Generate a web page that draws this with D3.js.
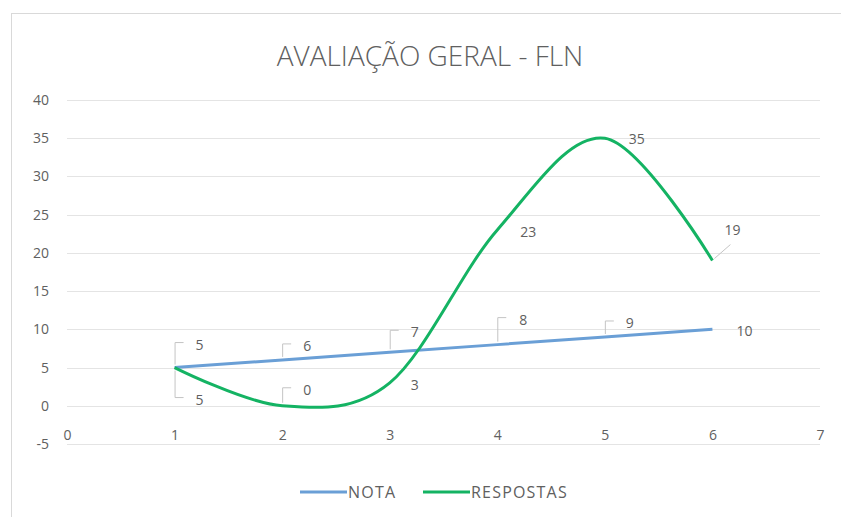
<!DOCTYPE html>
<html>
<head>
<meta charset="utf-8">
<script src="https://cdn.jsdelivr.net/npm/d3@7"></script>
<style>
  body { margin: 0; background: #fff; }
  text { font-family: "Open Sans", "Noto Sans", sans-serif; fill: #606060; }
</style>
</head>
<body>
<div id="main"></div>
<script>
// data
var xValues = [1, 2, 3, 4, 5, 6];
var nota = [5, 6, 7, 8, 9, 10];
var respostas = [5, 0, 3, 23, 35, 19];
var seriesNames = ["NOTA", "RESPOSTAS"];
var yTicks = [-5, 0, 5, 10, 15, 20, 25, 30, 35, 40];
var xTicks = [0, 1, 2, 3, 4, 5, 6, 7];

// label placement (dx, dy from point, leader type)
var notaLabelPos = [
  {dx: 25, dy: -23, lead: "up"}, {dx: 25, dy: -14, lead: "up"}, {dx: 25, dy: -20, lead: "up"},
  {dx: 26, dy: -25, lead: "up"}, {dx: 25, dy: -14, lead: "up"}, {dx: 32, dy: 2, lead: "none"}
];
var respLabelPos = [
  {dx: 25, dy: 32, lead: "down"}, {dx: 25, dy: -16, lead: "up"}, {dx: 25, dy: 2, lead: "none"},
  {dx: 31, dy: 2, lead: "none"}, {dx: 32, dy: 1, lead: "none"}, {dx: 20, dy: -31, lead: "diag"}
];

var colors = ["#6a9fd6", "#14b363"];

var svg = d3.select("#main").append("svg")
  .attr("width", 841)
  .attr("height", 517);

svg.append("rect")
  .attr("x", 11.5).attr("y", 13.5)
  .attr("width", 840).attr("height", 520)
  .attr("fill", "#fff")
  .attr("stroke", "#d9d9d9");

svg.append("text")
  .attr("x", 430).attr("y", 66)
  .attr("text-anchor", "middle")
  .attr("font-size", "28px")
  .attr("font-weight", 300)
  .text("AVALIAÇÃO GERAL - FLN");

var x = d3.scaleLinear().domain([0, 7]).range([67, 820]);
var y = d3.scaleLinear().domain([-5, 40]).range([444, 100]);

// gridlines
svg.append("g")
  .selectAll("line")
  .data(yTicks)
  .enter().append("line")
  .attr("x1", x(0)).attr("x2", x(7))
  .attr("y1", function(d) { return Math.round(y(d)) + 0.5; })
  .attr("y2", function(d) { return Math.round(y(d)) + 0.5; })
  .attr("stroke", "#e4e4e4")
  .attr("stroke-width", 1);

var yaxis = d3.axisLeft(y).tickValues(yTicks).tickSize(0).tickPadding(0)
  .tickFormat(function(d) { return String(d); });
svg.append("g")
  .attr("transform", "translate(49,0)")
  .call(yaxis)
  .call(function(g) { g.select(".domain").remove(); })
  .selectAll("text")
  .attr("font-size", "14px")
  .attr("fill", "#606060")
  .style("font-family", "'Open Sans', sans-serif");

var xaxis = d3.axisBottom(x).tickValues(xTicks).tickSize(0).tickPadding(0)
  .tickFormat(d3.format("d"));
svg.append("g")
  .attr("transform", "translate(0," + (y(0) + 34) + ")")
  .call(xaxis)
  .call(function(g) { g.select(".domain").remove(); })
  .selectAll("text")
  .attr("dy", "0")
  .attr("font-size", "14px")
  .attr("fill", "#606060")
  .style("font-family", "'Open Sans', sans-serif");

var straight = d3.line()
  .x(function(d, i) { return x(xValues[i]); })
  .y(function(d) { return y(d); });

var smooth = d3.line()
  .x(function(d, i) { return x(xValues[i]); })
  .y(function(d) { return y(d); })
  .curve(d3.curveCatmullRom.alpha(0));

function drawLabels(vals, pos) {
  var g = svg.append("g");
  vals.forEach(function(v, i) {
    var px = x(xValues[i]), py = y(v);
    var p = pos[i];
    var lx = px + p.dx, ly = py + p.dy;
    if (p.lead == "up" || p.lead == "down") {
      g.append("path")
        .attr("d", "M" + (px + 0.5) + "," + (py + (p.lead == "up" ? -3 : 3)) + "V" + (ly - 2) + "H" + (px + 9))
        .attr("fill", "none")
        .attr("stroke", "#c4c4c4")
        .attr("stroke-width", 1);
    } else if (p.lead == "diag") {
      g.append("path")
        .attr("d", "M" + (px + 2) + "," + (py - 2) + "L" + (px + 18) + "," + (py - 16))
        .attr("fill", "none")
        .attr("stroke", "#c4c4c4")
        .attr("stroke-width", 1);
    }
    g.append("text")
      .attr("x", lx).attr("y", ly + 5)
      .attr("text-anchor", "middle")
      .attr("font-size", "14px")
      .text(v);
  });
}

svg.append("path")
  .datum(nota)
  .attr("fill", "none")
  .attr("stroke", colors[0])
  .attr("stroke-width", 3)
  .attr("d", straight);

svg.append("path")
  .datum(respostas)
  .attr("fill", "none")
  .attr("stroke", colors[1])
  .attr("stroke-width", 3)
  .attr("stroke-linejoin", "round")
  .attr("d", smooth);

drawLabels(nota, notaLabelPos);
drawLabels(respostas, respLabelPos);

// legend
var legendX = [300, 423];
var legend = svg.append("g");
seriesNames.forEach(function(name, i) {
  legend.append("line")
    .attr("x1", legendX[i]).attr("x2", legendX[i] + 47)
    .attr("y1", 492).attr("y2", 492)
    .attr("stroke", colors[i])
    .attr("stroke-width", 3);
  legend.append("text")
    .attr("x", legendX[i] + 48).attr("y", 498)
    .attr("font-size", "16px")
    .attr("letter-spacing", "1.2px")
    .attr("fill", "#707070")
    .text(name);
});
</script>
</body>
</html>
